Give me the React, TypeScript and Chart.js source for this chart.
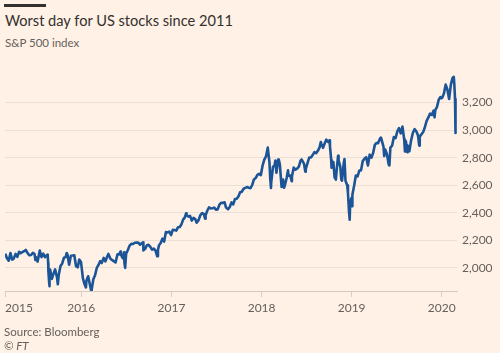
import React, { useEffect, useRef } from "react";
import { Chart, registerables } from "chart.js";

Chart.register(...registerables);

const dates: string[] = [
  "2015-02-27","2015-03-06","2015-03-13","2015-03-20","2015-03-27","2015-04-02","2015-04-10","2015-04-17","2015-04-24","2015-05-01","2015-05-08","2015-05-15","2015-05-21","2015-05-29","2015-06-05","2015-06-12","2015-06-19","2015-06-26","2015-06-29","2015-07-02","2015-07-08","2015-07-17","2015-07-24","2015-07-31","2015-08-07","2015-08-14","2015-08-18","2015-08-20","2015-08-21","2015-08-24","2015-08-25","2015-08-26","2015-08-28","2015-09-04","2015-09-11","2015-09-17","2015-09-25","2015-09-28","2015-10-02","2015-10-09","2015-10-16","2015-10-23","2015-10-30","2015-11-03","2015-11-06","2015-11-13","2015-11-20","2015-11-27","2015-12-04","2015-12-11","2015-12-14","2015-12-18","2015-12-24","2015-12-31",
  "2016-01-08","2016-01-15","2016-01-20","2016-01-22","2016-01-29","2016-02-05","2016-02-11","2016-02-19","2016-02-26","2016-03-04","2016-03-11","2016-03-18","2016-03-24","2016-04-01","2016-04-08","2016-04-15","2016-04-20","2016-04-29","2016-05-06","2016-05-13","2016-05-19","2016-05-27","2016-06-03","2016-06-08","2016-06-10","2016-06-17","2016-06-23","2016-06-24","2016-06-27","2016-07-01","2016-07-08","2016-07-15","2016-07-22","2016-07-29","2016-08-05","2016-08-12","2016-08-19","2016-08-26","2016-09-02","2016-09-08","2016-09-09","2016-09-16","2016-09-23","2016-09-30","2016-10-07","2016-10-14","2016-10-21","2016-10-28","2016-11-04","2016-11-07","2016-11-11","2016-11-18","2016-11-25","2016-12-02","2016-12-09","2016-12-16","2016-12-23","2016-12-30",
  "2017-01-06","2017-01-13","2017-01-20","2017-01-27","2017-02-03","2017-02-10","2017-02-17","2017-02-24","2017-03-01","2017-03-03","2017-03-10","2017-03-17","2017-03-24","2017-03-31","2017-04-07","2017-04-13","2017-04-21","2017-04-28","2017-05-05","2017-05-12","2017-05-17","2017-05-19","2017-05-26","2017-06-02","2017-06-09","2017-06-16","2017-06-23","2017-06-30","2017-07-07","2017-07-14","2017-07-21","2017-07-28","2017-08-04","2017-08-10","2017-08-18","2017-08-25","2017-09-01","2017-09-08","2017-09-15","2017-09-22","2017-09-29","2017-10-06","2017-10-13","2017-10-20","2017-10-27","2017-11-03","2017-11-10","2017-11-17","2017-11-24","2017-12-01","2017-12-08","2017-12-15","2017-12-22","2017-12-29",
  "2018-01-05","2018-01-12","2018-01-19","2018-01-26","2018-02-02","2018-02-05","2018-02-08","2018-02-09","2018-02-16","2018-02-23","2018-02-26","2018-03-02","2018-03-09","2018-03-12","2018-03-16","2018-03-23","2018-03-29","2018-04-02","2018-04-06","2018-04-13","2018-04-18","2018-04-20","2018-04-27","2018-05-03","2018-05-04","2018-05-11","2018-05-18","2018-05-25","2018-06-01","2018-06-08","2018-06-12","2018-06-15","2018-06-22","2018-06-27","2018-06-29","2018-07-06","2018-07-13","2018-07-20","2018-07-27","2018-08-03","2018-08-10","2018-08-17","2018-08-24","2018-08-29","2018-08-31","2018-09-07","2018-09-14","2018-09-20","2018-09-28","2018-10-03","2018-10-05","2018-10-10","2018-10-11","2018-10-12","2018-10-19","2018-10-24","2018-10-26","2018-10-29","2018-11-02","2018-11-07","2018-11-09","2018-11-16","2018-11-20","2018-11-23","2018-11-30","2018-12-03","2018-12-07","2018-12-14","2018-12-17","2018-12-21","2018-12-24","2018-12-26","2018-12-31",
  "2019-01-03","2019-01-04","2019-01-11","2019-01-18","2019-01-25","2019-02-01","2019-02-08","2019-02-15","2019-02-22","2019-03-01","2019-03-08","2019-03-15","2019-03-22","2019-03-29","2019-04-05","2019-04-12","2019-04-18","2019-04-26","2019-04-30","2019-05-03","2019-05-10","2019-05-13","2019-05-17","2019-05-24","2019-05-31","2019-06-03","2019-06-07","2019-06-14","2019-06-21","2019-06-28","2019-07-05","2019-07-12","2019-07-19","2019-07-26","2019-08-02","2019-08-05","2019-08-09","2019-08-14","2019-08-16","2019-08-23","2019-08-30","2019-09-06","2019-09-13","2019-09-20","2019-09-27","2019-10-02","2019-10-04","2019-10-11","2019-10-18","2019-10-25","2019-11-01","2019-11-08","2019-11-15","2019-11-22","2019-11-29","2019-12-03","2019-12-06","2019-12-13","2019-12-20","2019-12-27","2019-12-31",
  "2020-01-03","2020-01-10","2020-01-17","2020-01-24","2020-01-31","2020-02-07","2020-02-14","2020-02-19","2020-02-21","2020-02-24","2020-02-25","2020-02-26","2020-02-27"
];

const values: number[] = [
  2104,2071,2053,2108,2061,2067,2102,2081,2117,2108,2116,2122,2131,2107,2092,2094,2110,2101,2058,2077,2046,2127,2079,2104,2078,2092,2097,2035,1971,1893,1868,1940,1989,1921,1961,1990,1931,1882,1951,2015,2033,2075,2079,2109,2099,2023,2089,2090,2092,2012,2022,2005,2061,2044,
  1922,1880,1859,1907,1940,1880,1829,1918,1948,2000,2022,2050,2036,2073,2048,2081,2102,2065,2057,2047,2040,2099,2099,2119,2096,2071,2113,2037,2001,2103,2130,2162,2175,2174,2183,2184,2184,2169,2180,2186,2128,2139,2165,2168,2153,2133,2141,2126,2085,2132,2164,2182,2213,2192,2260,2258,2264,2239,
  2277,2275,2271,2295,2297,2316,2351,2367,2396,2383,2373,2378,2344,2363,2355,2329,2349,2384,2399,2391,2357,2382,2416,2439,2432,2433,2438,2423,2425,2459,2473,2472,2477,2438,2426,2443,2476,2461,2500,2502,2519,2549,2553,2575,2581,2587,2582,2579,2602,2642,2652,2675,2683,2674,
  2743,2786,2810,2873,2762,2649,2581,2620,2732,2747,2780,2691,2786,2783,2752,2588,2641,2582,2604,2656,2708,2670,2670,2630,2663,2728,2713,2721,2735,2779,2787,2780,2755,2699,2718,2760,2801,2802,2819,2840,2833,2850,2875,2914,2902,2872,2905,2931,2914,2926,2885,2785,2728,2767,2768,2656,2659,2641,2723,2814,2781,2736,2641,2633,2760,2790,2633,2600,2546,2417,2351,2468,2507,
  2448,2532,2596,2671,2665,2707,2708,2776,2793,2804,2743,2822,2800,2834,2893,2907,2905,2940,2946,2946,2881,2812,2860,2826,2752,2744,2873,2887,2950,2942,2990,3014,2977,3026,2932,2845,2919,2840,2889,2847,2926,2979,3007,2992,2962,2888,2952,2970,2986,3023,3067,3093,3120,3110,3141,3093,3146,3169,3221,3240,3231,
  3235,3265,3330,3295,3226,3328,3380,3386,3338,3225,3128,3116,2979
];

const yTickValues: number[] = [2000, 2200, 2400, 2600, 2800, 3000, 3200];
const xTickYears: string[] = ["2015", "2016", "2017", "2018", "2019", "2020"];
const xTickDates: string[] = ["2015-02-26", "2016-01-01", "2017-01-01", "2018-01-01", "2019-01-01", "2020-01-01"];
const xRange: string[] = ["2015-02-26", "2020-03-03"];
const yRange: number[] = [1833, 3400];

const toDay = (d: string) => Date.parse(d + "T00:00:00Z") / 86400000;

const TEXT = "#66605c";
const FONT = "Lato, 'Open Sans', sans-serif";

export default function App() {
  const ref = useRef<HTMLCanvasElement | null>(null);

  useEffect(() => {
    if (!ref.current) return;
    const points = dates.map((d, i) => ({ x: toDay(d), y: values[i] }));
    const xMin = toDay(xRange[0]);
    const xMax = toDay(xRange[1]);
    const tickDays = xTickDates.map(toDay);
    const chart = new Chart(ref.current, {
      type: "line",
      data: {
        datasets: [
          {
            data: points,
            borderColor: "#1c5597",
            borderWidth: 2.6,
            pointRadius: 0,
            tension: 0,
            borderJoinStyle: "round",
            fill: false,
          },
        ],
      },
      options: {
        animation: false,
        responsive: false,
        events: [],
        layout: { padding: { left: 5, top: 75, right: 0, bottom: 37 } },
        plugins: { legend: { display: false }, tooltip: { enabled: false } },
        scales: {
          x: {
            type: "linear",
            min: xMin,
            max: xMax,
            afterBuildTicks: (axis: any) => {
              axis.ticks = [...tickDays.map((v) => ({ value: v })), { value: xMax }];
            },
            afterFit: (axis: any) => {
              axis.height = 25;
            },
            ticks: {
              autoSkip: false,
              maxRotation: 0,
              align: "inner",
              padding: 4,
              color: TEXT,
              font: { family: FONT, size: 12 },
              callback: (v: any) => {
                const i = tickDays.indexOf(v);
                return i >= 0 ? xTickYears[i] : "";
              },
            },
            grid: {
              drawOnChartArea: false,
              tickLength: 6,
              color: (ctx: any) => (ctx.tick && ctx.tick.value === xMax ? "rgba(0,0,0,0)" : "#dacfc4"),
            },
            border: { display: true, color: "#d6cabf", width: 1 },
          },
          y: {
            position: "right",
            min: yRange[0],
            max: yRange[1],
            afterBuildTicks: (axis: any) => {
              axis.ticks = yTickValues.map((v) => ({ value: v }));
            },
            afterFit: (axis: any) => {
              axis.width = 43;
            },
            ticks: {
              padding: 5,
              color: TEXT,
              font: { family: FONT, size: 12 },
              callback: (v: any) => Number(v).toLocaleString("en-US"),
            },
            grid: { color: "#ebe0d6", drawTicks: false, lineWidth: 1 },
            border: { display: false },
          },
        },
      },
    });
    return () => chart.destroy();
  }, []);

  return (
    <div
      style={{
        position: "absolute",
        left: 0,
        top: 0,
        width: 500,
        height: 353,
        background: "#fff1e5",
        overflow: "hidden",
        fontFamily: FONT,
      }}
    >
      <div style={{ position: "absolute", left: 4, top: 4, width: 42, height: 3, background: "#33302e" }} />
      <div style={{ position: "absolute", left: 5, top: 12, fontSize: 14.6, lineHeight: "18px", color: "#33302e", whiteSpace: "nowrap" }}>
        Worst day for US stocks since 2011
      </div>
      <div style={{ position: "absolute", left: 5, top: 36, fontSize: 11.5, lineHeight: "14px", color: TEXT, whiteSpace: "nowrap" }}>
        S&amp;P 500 index
      </div>
      <canvas ref={ref} width={500} height={353} style={{ position: "absolute", left: 0, top: 0, width: 500, height: 353 }} />
      <div style={{ position: "absolute", left: 4, top: 325, fontSize: 11.5, lineHeight: "14px", color: TEXT, whiteSpace: "nowrap" }}>
        Source: Bloomberg
      </div>
      <div style={{ position: "absolute", left: 4, top: 339, fontSize: 11.5, lineHeight: "14px", color: TEXT, fontStyle: "italic", whiteSpace: "nowrap" }}>
        © FT
      </div>
    </div>
  );
}
